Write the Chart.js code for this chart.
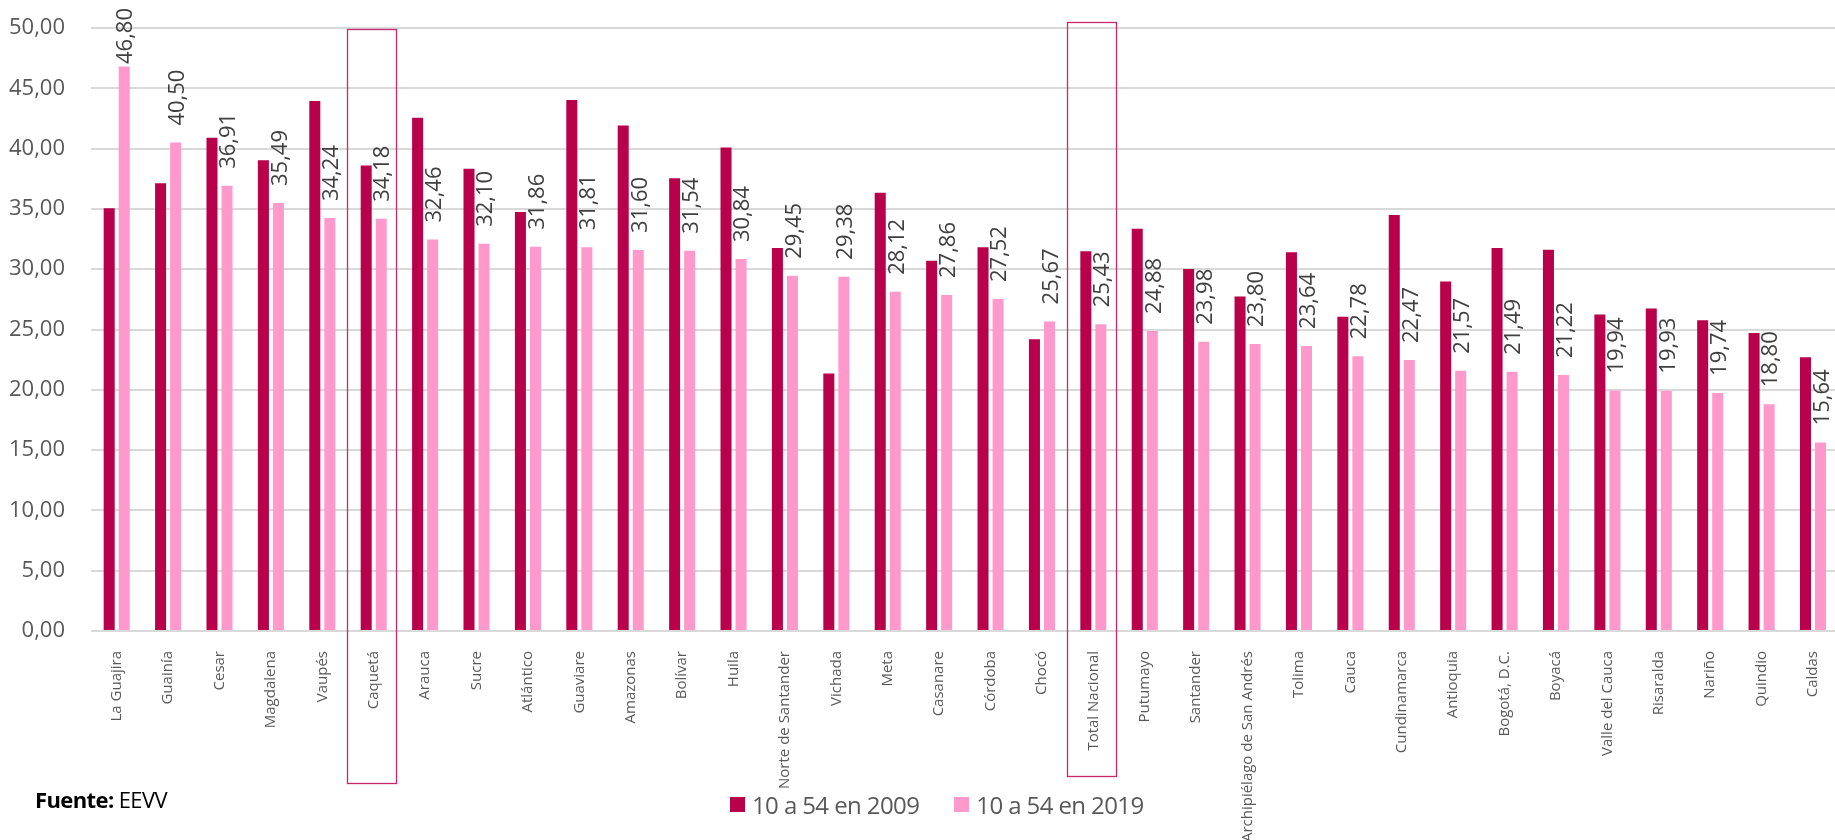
<!DOCTYPE html>
<html lang="es">
<head>
<meta charset="utf-8">
<title>Tasa 10 a 54 por departamento</title>
<script src="https://cdn.jsdelivr.net/npm/chart.js@4.4.0/dist/chart.umd.min.js"></script>
<style>
  html, body { margin: 0; padding: 0; background: #fff; overflow: hidden; }
  #wrap { position: relative; width: 1835px; height: 840px; overflow: hidden; }
  #c { position: absolute; left: 0; top: 0; }
  #fuente { position: absolute; left: 35px; top: 784px; font: 22px "Open Sans", sans-serif;
            letter-spacing: -0.6px; color: #000; }
  #legend { position: absolute; left: 730px; top: 788px; display: flex; align-items: center;
            font: 24px "Open Sans", sans-serif; line-height: 33px; letter-spacing: -0.6px; color: #595959; }
  #legend .item { display: flex; align-items: center; margin-right: 35px; }
  #legend .sw { width: 15px; height: 15px; margin-right: 7px; }
</style>
</head>
<body>
<div id="wrap">
  <canvas id="c" width="1843" height="840"></canvas>
  <div id="fuente"><b>Fuente:</b> EEVV</div>
  <div id="legend"></div>
</div>
<script>
// datos
const categories = ['La Guajira', 'Guainía', 'Cesar', 'Magdalena', 'Vaupés', 'Caquetá', 'Arauca', 'Sucre',
  'Atlántico', 'Guaviare', 'Amazonas', 'Bolívar', 'Huila', 'Norte de Santander', 'Vichada', 'Meta',
  'Casanare', 'Córdoba', 'Chocó', 'Total Nacional', 'Putumayo', 'Santander', 'Archipiélago de San Andrés',
  'Tolima', 'Cauca', 'Cundinamarca', 'Antioquia', 'Bogotá, D.C.', 'Boyacá', 'Valle del Cauca', 'Risaralda',
  'Nariño', 'Quindio', 'Caldas'];

const values2009 = [35.05, 37.13, 40.90, 39.04, 43.95, 38.60, 42.56, 38.32, 34.75, 44.03, 41.92, 37.55,
  40.09, 31.75, 21.36, 36.33, 30.70, 31.81, 24.19, 31.48, 33.36, 30.01, 27.74, 31.40, 26.05, 34.50,
  28.99, 31.75, 31.62, 26.24, 26.74, 25.77, 24.71, 22.69];

const values2019 = [46.80, 40.50, 36.91, 35.49, 34.24, 34.18, 32.46, 32.10, 31.86, 31.81, 31.60, 31.54,
  30.84, 29.45, 29.38, 28.12, 27.86, 27.52, 25.67, 25.43, 24.88, 23.98, 23.80, 23.64, 22.78, 22.47,
  21.57, 21.49, 21.22, 19.94, 19.93, 19.74, 18.80, 15.64];

const seriesNames = ['10 a 54 en 2009', '10 a 54 en 2019'];
const seriesColors = ['#B8004B', '#FF99CC'];
const yMin = 0, yMax = 50, yStep = 5;
const highlighted = ['Caquetá', 'Total Nacional'];

function fmt(v){
  return Number(v).toFixed(2).replace('.', ',');
}

// etiquetas verticales sobre las barras de 2019
const barLabels = {
  id: 'barLabels',
  afterDatasetsDraw(chart){
    const ctx = chart.ctx;
    const meta = chart.getDatasetMeta(1);
    ctx.save();
    ctx.font = '22px "Open Sans", sans-serif';
    ctx.fillStyle = '#404040';
    ctx.textAlign = 'left';
    ctx.textBaseline = 'middle';
    meta.data.forEach((bar, i) => {
      const txt = fmt(values2019[i]);
      const w = ctx.measureText(txt).width;
      let start = bar.y - 17;
      if (start - w < 8) start = 8 + w;
      ctx.save();
      ctx.translate(bar.x + 2, start);
      ctx.rotate(-Math.PI / 2);
      ctx.fillText(txt, 0, 0);
      ctx.restore();
    });
    ctx.restore();
  }
};

// recuadros de resaltado
const boxes = {
  id: 'boxes',
  afterDraw(chart){
    const xs = chart.scales.x, ys = chart.scales.y;
    const ctx = chart.ctx;
    const cw = xs.width / categories.length;
    const spec = { 'Caquetá': { top: 49.9, below: 152 }, 'Total Nacional': { top: 50.5, below: 145 } };
    ctx.save();
    ctx.strokeStyle = '#C8286A';
    ctx.lineWidth = 1.3;
    highlighted.forEach(name => {
      const i = categories.indexOf(name);
      if (i < 0) return;
      const cx = xs.getPixelForValue(i);
      const left = Math.round(cx - 0.52 * cw) + 0.5;
      const right = Math.round(cx + 0.44 * cw) + 0.5;
      const top = Math.round(ys.getPixelForValue(spec[name].top)) + 0.5;
      const bottom = Math.round(chart.chartArea.bottom + spec[name].below) + 0.5;
      ctx.strokeRect(left, top, right - left, bottom - top);
    });
    ctx.restore();
  }
};

Chart.defaults.font.family = '"Open Sans", sans-serif';

const chart = new Chart(document.getElementById('c').getContext('2d'), {
  type: 'bar',
  data: {
    labels: categories,
    datasets: [
      { label: seriesNames[0], data: values2009, backgroundColor: seriesColors[0],
        categoryPercentage: 0.585, barPercentage: 0.733 },
      { label: seriesNames[1], data: values2019, backgroundColor: seriesColors[1],
        categoryPercentage: 0.585, barPercentage: 0.733 }
    ]
  },
  options: {
    responsive: false,
    animation: false,
    devicePixelRatio: 1,
    layout: { padding: { top: 28, left: 0, right: 0, bottom: 0 } },
    plugins: { legend: { display: false }, tooltip: { enabled: false } },
    scales: {
      x: {
        grid: { display: false },
        border: { display: false },
        ticks: { autoSkip: false, maxRotation: 90, minRotation: 90, padding: 12,
                 color: '#595959', font: { size: 15 } },
        afterFit(s){ s.height = 209; }
      },
      y: {
        min: yMin, max: yMax,
        grid: { color: '#d9d9d9', lineWidth: 2, drawTicks: false },
        border: { display: false },
        ticks: { stepSize: yStep, padding: 26, color: '#595959', font: { size: 22 },
                 callback: v => fmt(v) },
        afterFit(s){ s.width = 91; s.paddingTop = 0; s.paddingBottom = 0; }
      }
    }
  },
  plugins: [barLabels, boxes]
});

// leyenda
const legendEl = document.getElementById('legend');
seriesNames.forEach((name, i) => {
  const item = document.createElement('div');
  item.className = 'item';
  const sw = document.createElement('span');
  sw.className = 'sw';
  sw.style.background = seriesColors[i];
  const txt = document.createElement('span');
  txt.textContent = name;
  item.appendChild(sw);
  item.appendChild(txt);
  legendEl.appendChild(item);
});
</script>
</body>
</html>
